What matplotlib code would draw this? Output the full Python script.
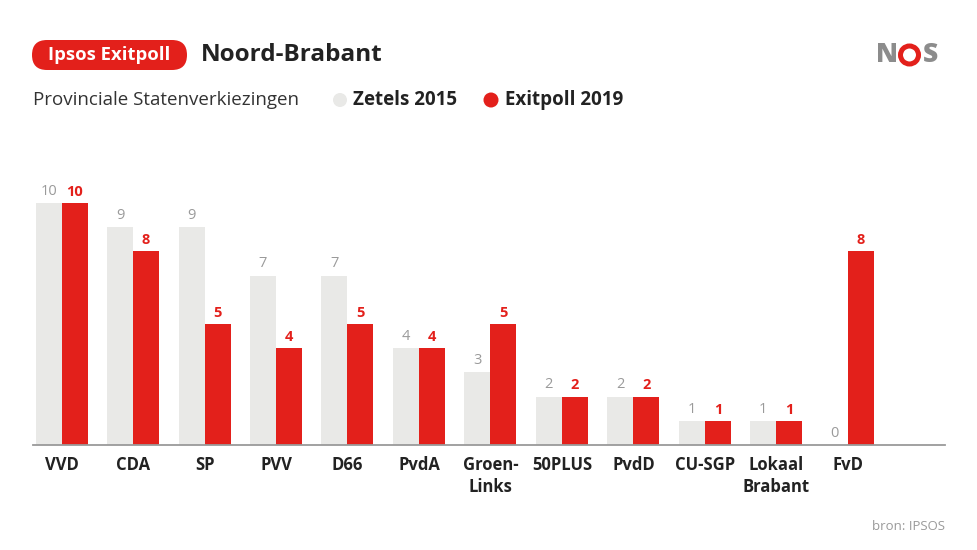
import matplotlib
matplotlib.use('Agg')
import matplotlib.pyplot as plt
from matplotlib.patches import FancyBboxPatch, Circle
import numpy as np

# partijen en zetels
parties = ['VVD', 'CDA', 'SP', 'PVV', 'D66', 'PvdA', 'Groen-\nLinks', '50PLUS',
           'PvdD', 'CU-SGP', 'Lokaal\nBrabant', 'FvD']
seats_2015 = [10, 9, 9, 7, 7, 4, 3, 2, 2, 1, 1, 0]
seats_2019 = [10, 8, 5, 4, 5, 4, 5, 2, 2, 1, 1, 8]

RED = '#e3201b'
GREY_BAR = '#e9e9e7'
GREY_TXT = '#9a9a9a'
DARK = '#222222'

plt.rcParams['font.family'] = ['Open Sans', 'DejaVu Sans']

fig = plt.figure(figsize=(9.77, 5.5), dpi=100)

# overlay in pixel coordinates for header shapes
ov = fig.add_axes([0, 0, 1, 1])
ov.set_xlim(0, 977)
ov.set_ylim(550, 0)
ov.axis('off')

ax = fig.add_axes([33 / 977, 105 / 550, 912 / 977, 295 / 550])

x = np.arange(len(parties))
w = 0.364
b1 = ax.bar(x - w / 2, seats_2015, w, color=GREY_BAR, zorder=2)
b2 = ax.bar(x + w / 2, seats_2019, w, color=RED, zorder=2)

for rect, v in zip(b1, seats_2015):
    ax.annotate(str(v), (rect.get_x() + rect.get_width() / 2, v),
                xytext=(0, 3), textcoords='offset points', ha='center', va='bottom',
                color=GREY_TXT, fontsize=10.5)
for rect, v in zip(b2, seats_2019):
    ax.annotate(str(v), (rect.get_x() + rect.get_width() / 2, v),
                xytext=(0, 3), textcoords='offset points', ha='center', va='bottom',
                color=RED, fontsize=10.5, fontweight='bold')

ax.set_xlim(-0.4, 12.36)
ax.set_ylim(0, 295 / 24.2)
ax.set_xticks(x)
ax.set_xticklabels(parties, fontsize=12, fontweight='bold', color=DARK, linespacing=1.3)
ax.tick_params(axis='x', length=0, pad=8)
ax.set_yticks([])
for s in ['top', 'right', 'left']:
    ax.spines[s].set_visible(False)
ax.spines['bottom'].set_color('#9a9a9a')
ax.spines['bottom'].set_linewidth(1.3)
ax.spines['bottom'].set_zorder(3)

# kop
ov.add_patch(FancyBboxPatch((32, 40), 155, 30, boxstyle='round,pad=0,rounding_size=15',
                            facecolor=RED, edgecolor='none'))
ov.text(109.5, 55, 'Ipsos Exitpoll', color='white', fontsize=13.3,
        fontweight='bold', ha='center', va='center')
ov.text(201, 55, 'Noord-Brabant', color=DARK, fontsize=17.5,
        fontweight='bold', ha='left', va='center')
ov.text(33, 100, 'Provinciale Statenverkiezingen', color='#333333',
        fontsize=13.5, ha='left', va='center')

# legenda
ov.add_patch(Circle((340, 100), 7, facecolor=GREY_BAR, edgecolor='none'))
ov.text(353, 100, 'Zetels 2015', color=DARK, fontsize=13.5,
        fontweight='bold', ha='left', va='center')
ov.add_patch(Circle((491, 100), 7.5, facecolor=RED, edgecolor='none'))
ov.text(505, 100, 'Exitpoll 2019', color=DARK, fontsize=13.5,
        fontweight='bold', ha='left', va='center')

# NOS logo
ov.text(887.5, 55, 'N', color='#8c8c8c', fontsize=19, fontweight='heavy',
        ha='center', va='center')
ov.add_patch(Circle((909.5, 55), 9, facecolor='none', edgecolor=RED, linewidth=3.6))
ov.text(931, 55, 'S', color='#8c8c8c', fontsize=19, fontweight='heavy',
        ha='center', va='center')

ov.text(945, 527, 'bron: IPSOS', color=GREY_TXT, fontsize=9.5,
        ha='right', va='center')

fig.savefig('out.png', dpi=100, facecolor='white')
